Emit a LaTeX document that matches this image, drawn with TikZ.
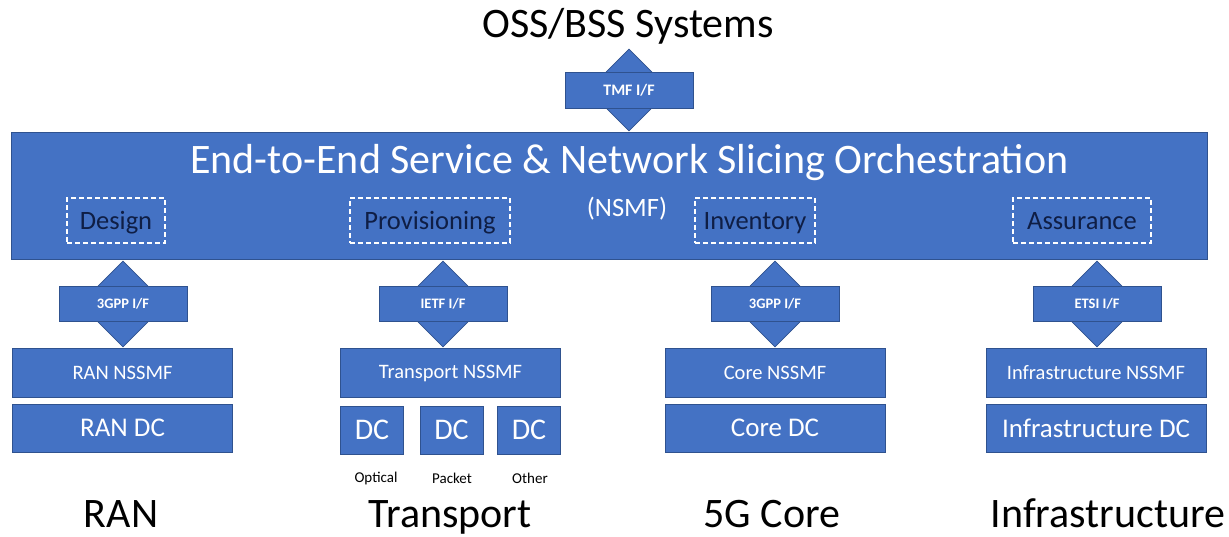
\documentclass[tikz,border=0pt]{standalone}
\usepackage{fontspec}
\setmainfont{Carlito}
\usetikzlibrary{shapes.geometric}
\definecolor{slice}{HTML}{4472C4}
\definecolor{sliceline}{HTML}{2F528F}
\definecolor{navy}{HTML}{0F1E45}
\newcommand\sz[1]{\fontsize{#1}{#1}\selectfont}
\begin{document}
\begin{tikzpicture}[x=1pt,y=-1pt,
  blk/.style={draw=sliceline,fill=slice,text=white,line width=0.8pt,inner sep=0pt},
  ifdia/.style={diamond,draw=sliceline,fill=slice,line width=0.8pt,inner sep=0pt,minimum width=86pt,minimum height=86pt},
  ifbox/.style={blk,minimum width=128pt,minimum height=35pt,font=\sz{14.5}\bfseries},
  func/.style={draw=white,dash pattern=on 5pt off 3pt,line width=1.3pt,text=navy,inner sep=0pt,minimum height=45pt,text height=18pt,text depth=0pt,font=\sz{26.5}},
  nssmf/.style={blk,minimum width=220pt,minimum height=49pt,font=\sz{20.5}},
  dcbox/.style={blk,minimum width=220pt,minimum height=48pt,font=\sz{27}},
  sector/.style={anchor=base,font=\sz{42}}]
\useasboundingbox (0,0) rectangle (1229,537);
\node[sector] (oss) at (628,38) {OSS/BSS Systems};
\node[ifdia,minimum width=82pt,minimum height=82pt] (tmf-dia) at (629,90) {};
\node[ifbox,minimum height=36pt,font=\sz{16}\bfseries] (tmf) at (629,90) {TMF I/F};
\node[blk,minimum width=1196pt,minimum height=127pt] (nsmf) at (609,195.5) {};
\node[anchor=base,text=white,font=\sz{42}] (title) at (629.5,174) {End-to-End Service \& Network Slicing Orchestration};
\node[anchor=base,text=white,font=\sz{26.5}] (nsmf-lab) at (627,217) {(NSMF)};
\foreach \x/\w/\lab in {116/98/Design,430/160/Provisioning,755/120/Inventory,1082/138/Assurance}
  \node[func,minimum width=\w pt] (\lab) at (\x,220.5) {\lab};
\foreach \x/\nm/\lab in {123/ran/3GPP,443/tr/IETF,775/core/3GPP,1097/infra/ETSI} {
  \node[ifdia] (\nm-dia) at (\x,304) {};
  \node[ifbox] (\nm-if) at (\x,304) {\lab\ I/F};
}
\foreach \x/\nm/\lab in {122.5/ran/RAN,450.5/tr/Transport,775/core/Core,1096/infra/Infrastructure}
  \node[nssmf] (\nm-nssmf) at (\x,373) {\lab\ NSSMF};
\foreach \x/\nm/\lab in {122.5/ran/RAN,775/core/Core,1096/infra/Infrastructure}
  \node[dcbox] (\nm-dc) at (\x,428) {\lab\ DC};
\foreach \x/\lx/\lab in {372/376/Optical,451.5/452/Packet,529/530/Other} {
  \node[dcbox,minimum width=63pt,font=\sz{30}] (tr-\lab) at (\x,430) {DC};
  \node[font=\sz{15}] (\lab-lab) at (\lx,478) {\lab};
}
\node[sector] (ran) at (121,527) {RAN};
\node[sector] (tr) at (450,527) {Transport};
\node[sector] (core) at (772,527) {5G Core};
\node[sector] (infra) at (1108,527) {Infrastructure};
\end{tikzpicture}
\end{document}
